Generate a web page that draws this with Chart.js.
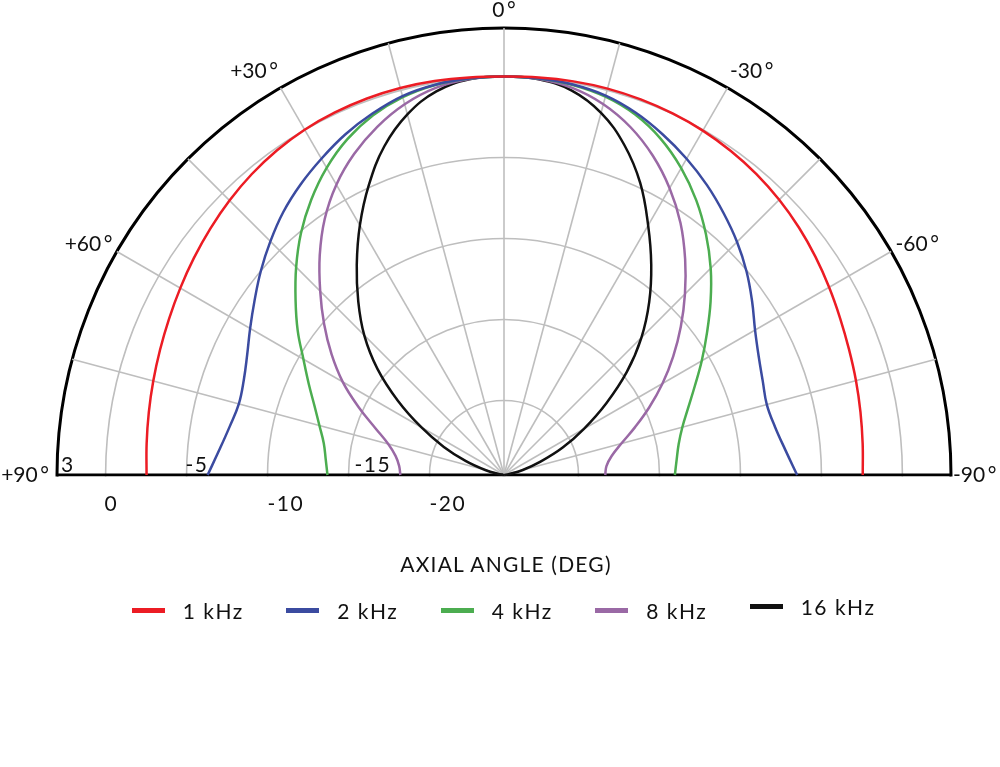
<!DOCTYPE html>
<html>
<head>
<meta charset="utf-8">
<script src="https://cdn.jsdelivr.net/npm/chart.js@4.4.1/dist/chart.umd.min.js"></script>
<style>
  html, body { margin:0; padding:0; background:#fff; width:1000px; height:767px; overflow:hidden; position:relative; font-family: Lato, "DejaVu Sans", sans-serif; color:#111; }
  #c { position:absolute; left:0; top:0; }
  #title { position:absolute; left:6px; width:1000px; top:553px; text-align:center; font-size:21px; line-height:21px; letter-spacing:1.2px; }
  .item { position:absolute; height:21px; width:154px; }
  .sw { position:absolute; left:0; width:33px; height:5px; }
  .tx { position:absolute; left:51px; top:0; font-size:21px; line-height:21px; letter-spacing:1.5px; white-space:nowrap; }
</style>
</head>
<body>
<canvas id="c" width="1014" height="1014"></canvas>
<div id="title">AXIAL ANGLE (DEG)</div>
<div id="legend"></div>
<script>
// ---- data, dB relative to on-axis ----
// axial angles from +90 (left) through 0 (top) to -90 (right), 5 degree steps
const axialAngles = [90,85,80,75,70,65,60,55,50,45,40,35,30,25,20,15,10,5,0,-5,-10,-15,-20,-25,-30,-35,-40,-45,-50,-55,-60,-65,-70,-75,-80,-85,-90];
const seriesNames = ['1 kHz','2 kHz','4 kHz','8 kHz','16 kHz'];
const seriesColors = ['#ec1c24','#3b4ba0','#4cad50','#9a69a5','#111111'];
const khz1  = [-2.53,-2.45,-2.33,-2.18,-2.0,-1.78,-1.52,-1.23,-0.93,-0.63,-0.36,-0.14,0.02,0.1,0.14,0.14,0.1,0.04,0,0.04,0.08,0.1,0.08,0.03,-0.05,-0.18,-0.35,-0.57,-0.83,-1.12,-1.42,-1.7,-1.93,-2.1,-2.25,-2.37,-2.45];
const khz2  = [-6.3,-6.95,-7.4,-7.65,-7.5,-7.1,-6.5,-5.8,-5.0,-4.2,-3.4,-2.7,-2.05,-1.4,-0.85,-0.38,-0.13,-0.03,0,-0.03,-0.12,-0.35,-0.8,-1.4,-2.05,-2.75,-3.5,-4.25,-5.05,-5.9,-6.7,-7.25,-7.6,-7.8,-7.6,-7.15,-6.5];
const khz4  = [-13.7,-13.55,-13.3,-12.8,-12.15,-11.3,-10.3,-9.05,-7.8,-6.45,-5.1,-3.85,-2.7,-1.72,-0.97,-0.45,-0.15,-0.03,0,-0.03,-0.15,-0.42,-0.92,-1.7,-2.72,-3.9,-5.2,-6.55,-7.95,-9.3,-10.5,-11.6,-12.5,-13.2,-13.65,-13.9,-14.05];
const khz8  = [-18.2,-18.1,-17.8,-17.2,-16.15,-14.7,-13.1,-11.6,-10.1,-8.55,-6.9,-5.3,-3.9,-2.72,-1.72,-0.9,-0.33,-0.06,0,-0.06,-0.33,-0.9,-1.75,-2.85,-4.15,-5.6,-7.2,-8.8,-10.35,-11.85,-13.3,-14.7,-16.0,-17.1,-17.85,-18.25,-18.35];
const khz16 = [-24.6,-24.6,-24.3,-23.4,-22.1,-20.5,-18.7,-16.6,-14.4,-12.4,-10.6,-8.75,-6.8,-4.85,-3.0,-1.55,-0.55,-0.08,0,-0.08,-0.5,-1.45,-2.9,-4.7,-6.8,-8.75,-10.65,-12.6,-14.7,-16.9,-18.9,-20.6,-22.2,-23.4,-24.3,-24.6,-24.6];
const radialTicks = [-20,-15,-10,-5,0,3];
const radialMin = -24.6, radialMax = 3;

// ---- build the radar label ring: clockwise from top, every 5 degrees ----
const ringLabels = [];
for (let cw = 0; cw < 360; cw += 5) {
  if (cw <= 90) ringLabels.push(-cw);
  else if (cw >= 270) ringLabels.push(360 - cw);
  else ringLabels.push(null);
}
function toRing(values) {
  return ringLabels.map(a => a === null ? null : values[axialAngles.indexOf(a)]);
}
const allSeries = [khz1, khz2, khz4, khz8, khz16];

const halfClip = {
  id: 'halfClip',
  beforeDraw(chart) {
    const s = chart.scales.r, ctx = chart.ctx;
    ctx.save();
    ctx.beginPath();
    ctx.rect(0, 0, chart.width, s.yCenter + 1.5);
    ctx.rect(0, s.yCenter, s.xCenter - s.drawingArea - 2, 40);
    ctx.rect(s.xCenter + s.drawingArea + 2, s.yCenter, chart.width, 40);
    ctx.clip();
  },
  afterDraw(chart) { chart.ctx.restore(); }
};
const tickLabels = {
  id: 'tickLabels',
  afterDraw(chart, args, opts) {
    const s = chart.scales.r, ctx = chart.ctx;
    ctx.save();
    ctx.font = '21px Lato';
    if ('letterSpacing' in ctx) ctx.letterSpacing = '1.5px';
    ctx.fillStyle = '#111';
    ctx.textBaseline = 'middle';
    ctx.textAlign = 'left';
    const sorted = [...s.ticks].sort((a, b) => b.value - a.value);
    sorted.forEach((t, i) => {
      const d = s.getDistanceFromCenterForValue(t.value);
      const x = s.xCenter - d + (opts.dx[i] || 0);
      const y = s.yCenter + (i % 2 === 0 ? -10 : 29);
      ctx.fillText(String(t.value), x, y);
    });
    ctx.restore();
  }
};

const chart = new Chart(document.getElementById('c'), {
  type: 'radar',
  data: {
    labels: ringLabels,
    datasets: allSeries.map((vals, i) => ({
      label: seriesNames[i],
      data: toRing(vals),
      borderColor: seriesColors[i],
      backgroundColor: seriesColors[i],
      borderWidth: 2.5,
      fill: false,
      spanGaps: false,
      tension: 0.4,
      pointRadius: 0,
      pointHoverRadius: 0,
      borderJoinStyle: 'round'
    }))
  },
  options: {
    responsive: false,
    animation: false,
    events: [],
    layout: { padding: 0 },
    plugins: {
      legend: { display: false },
      title: { display: false },
      tooltip: { enabled: false },
      tickLabels: { dx: [4, -1, -1, 0, 6, 0] }
    },
    scales: {
      r: {
        min: radialMin,
        max: radialMax,
        startAngle: 0,
        afterBuildTicks: (scale) => { scale.ticks = radialTicks.map(v => ({ value: v })); },
        ticks: { display: false },
        grid: {
          circular: true,
          color: (c) => (c.tick && c.tick.value === radialMax) ? '#000' : '#bebebe',
          lineWidth: (c) => (c.tick && c.tick.value === radialMax) ? 3 : 1.6
        },
        angleLines: {
          display: true,
          color: (c) => {
            const a = ringLabels[c.index];
            if (a === null) return 'rgba(0,0,0,0)';
            return Math.abs(a) === 90 ? '#000' : '#bebebe';
          },
          lineWidth: (c) => {
            const a = ringLabels[c.index];
            if (a === null || a % 15 !== 0) return 0;
            return Math.abs(a) === 90 ? 3 : 1.6;
          }
        },
        pointLabels: {
          display: true,
          color: '#111',
          callback: (label) => {
            if (label === null || label % 30 !== 0) return '';
            return (label > 0 ? '+' + label : String(label)) + '\u2009\u00B0';
          },
          padding: (c) => {
            const a = ringLabels[c.index];
            if (a === 90) return 8;
            if (a === -90) return 2;
            if (c.index === 36) return 34.8;
            return 5;
          },
          font: (c) => {
            const a = ringLabels[c.index];
            return { family: 'Lato', size: 21, lineHeight: (a === 60 || a === -60) ? 0.476 : 1.2 };
          }
        }
      }
    }
  },
  plugins: [halfClip, tickLabels]
});

// place the canvas so the polar origin sits where the reference has it
const rs = chart.scales.r;
const cv = document.getElementById('c');
cv.style.left = (504 - rs.xCenter) + 'px';
cv.style.top = (475 - rs.yCenter) + 'px';

// HTML legend built from the series arrays
const lg = document.getElementById('legend');
const legendDy = [0, 0, 0, 0, -4.5];
seriesNames.forEach((name, i) => {
  const it = document.createElement('div');
  it.className = 'item';
  it.style.left = (131.7 + i * 154.5) + 'px';
  it.style.top = (600.4 + legendDy[i]) + 'px';
  const sw = document.createElement('div');
  sw.className = 'sw';
  sw.style.background = seriesColors[i];
  sw.style.top = '8px';
  const tx = document.createElement('div');
  tx.className = 'tx';
  tx.textContent = name;
  it.appendChild(sw); it.appendChild(tx);
  lg.appendChild(it);
});
</script>
</body>
</html>
